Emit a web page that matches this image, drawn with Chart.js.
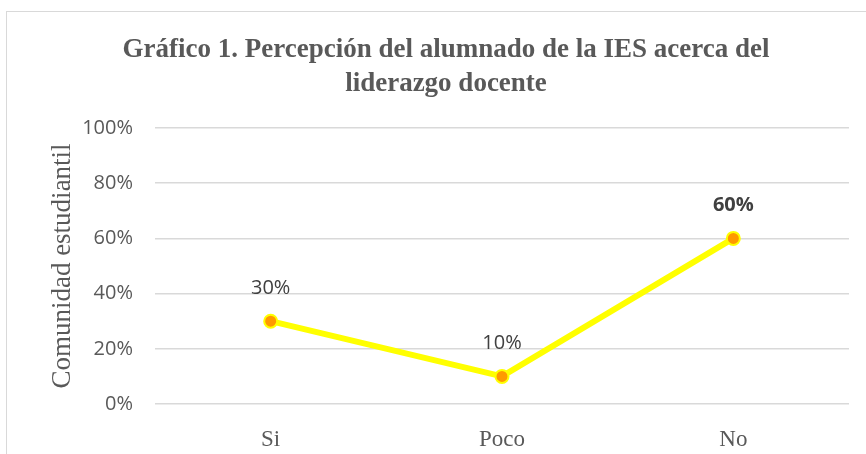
<!DOCTYPE html>
<html>
<head>
<meta charset="utf-8">
<script src="https://cdn.jsdelivr.net/npm/chart.js@4.4.1/dist/chart.umd.min.js"></script>
<style>
  html, body { margin: 0; padding: 0; background: #fff; }
  #box { position: absolute; left: 6px; top: 11px; width: 870px; height: 450px; border: 1.5px solid #d9d9d9; }
  #wrap { position: absolute; left: 7px; top: 12px; width: 859px; height: 442px; }
</style>
</head>
<body>
<div id="box"></div>
<div id="wrap"><canvas id="chart"></canvas></div>
<script>
const categories = ['Si', 'Poco', 'No'];
const values = [30, 10, 60];
const tickValues = [0, 20, 40, 60, 80, 100];
const titleLines = ['Gráfico 1. Percepción del alumnado de la IES acerca del', 'liderazgo docente'];
const axisTitle = 'Comunidad estudiantil';

// value labels above each point, the last one in bold
const pointLabels = {
  id: 'pointLabels',
  afterDatasetsDraw(chart) {
    const ctx = chart.ctx;
    const meta = chart.getDatasetMeta(0);
    ctx.save();
    ctx.fillStyle = '#404040';
    ctx.textAlign = 'center';
    ctx.textBaseline = 'middle';
    meta.data.forEach((pt, i) => {
      const bold = i === values.length - 1;
      ctx.font = (bold ? 'bold ' : '') + '20px "Open Sans"';
      ctx.fillText(values[i] + '%', pt.x, pt.y - 33);
    });
    ctx.restore();
  }
};

const ctx = document.getElementById('chart').getContext('2d');
const chart = new Chart(ctx, {
  type: 'line',
  data: {
    labels: categories,
    datasets: [{
      data: values,
      borderColor: '#ffff00',
      borderWidth: 6,
      pointBackgroundColor: '#ff9900',
      pointBorderColor: '#ffff00',
      pointBorderWidth: 2,
      pointRadius: 6.5,
      tension: 0
    }]
  },
  options: {
    responsive: true,
    maintainAspectRatio: false,
    animation: false,
    layout: { padding: { left: 36, right: 17, top: 0, bottom: 0 } },
    plugins: {
      legend: { display: false },
      tooltip: { enabled: false },
      title: {
        display: true,
        text: titleLines,
        color: '#595959',
        font: { family: '"Liberation Serif"', size: 27, weight: 'bold', lineHeight: 34 / 27 },
        padding: { top: 21, bottom: 27 }
      }
    },
    scales: {
      x: {
        offset: true,
        grid: { display: false, offset: true },
        border: { display: false },
        ticks: { color: '#595959', font: { family: '"Liberation Serif"', size: 23 }, padding: 14 },
        afterFit: s => { s.height = 50; }
      },
      y: {
        min: 0,
        max: 100,
        afterBuildTicks: s => { s.ticks = tickValues.map(v => ({ value: v })); },
        grid: { color: '#d9d9d9', lineWidth: 1.5, drawTicks: false },
        border: { display: false },
        ticks: { color: '#595959', font: { family: '"Open Sans"', size: 20 }, padding: 22, callback: v => v + '%' },
        title: { display: true, text: axisTitle, color: '#595959', font: { family: '"Liberation Serif"', size: 27 }, padding: 4 },
        afterFit: s => { s.width = 112; }
      }
    }
  },
  plugins: [pointLabels]
});
</script>
</body>
</html>
